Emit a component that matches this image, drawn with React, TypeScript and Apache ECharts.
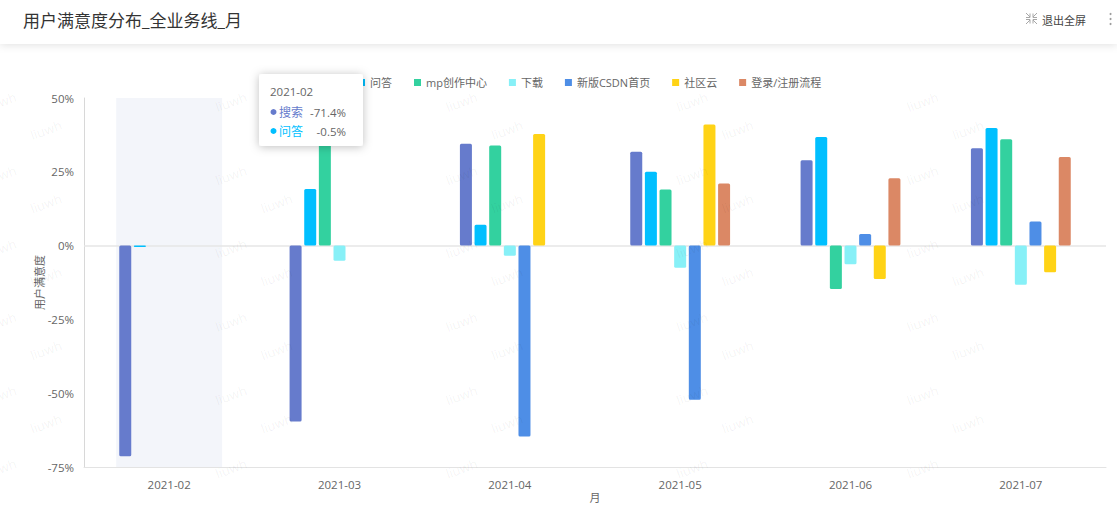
import React, { useEffect, useRef } from "react";
import * as echarts from "echarts";

const FONT = '"Open Sans","Noto Sans CJK SC",sans-serif';
const months = ["2021-02", "2021-03", "2021-04", "2021-05", "2021-06", "2021-07"];
const search = [-71.4, -59.6, 34.5, 31.8, 28.9, 33];
const answers = [-0.5, 19.2, 7.1, 25, 36.8, 39.8];
const mpCenter = [null, 37, 33.9, 19, -14.7, 36];
const downloads = [null, -5.1, -3.4, -7.5, -6.3, -13.3];
const csdnHome = [null, null, -64.7, -52.2, 3.9, 8.2];
const community = [null, null, 37.8, 41, -11.3, -9];
const loginFlow = [null, null, null, 21, 22.8, 30];
const seriesNames = ["搜索", "问答", "mp创作中心", "下载", "新版CSDN首页", "社区云", "登录/注册流程"];
const seriesValues = [search, answers, mpCenter, downloads, csdnHome, community, loginFlow];
const seriesColors = ["#667bcc", "#00bfff", "#33d19f", "#87f0f7", "#4e8ee6", "#ffd316", "#db8865"];
const highlightedMonth = ["2021-02"];
const Y_MIN = -75;
const Y_MAX = 50;

function watermarks() {
  const out: any[] = [];
  const style = { text: "liuwh", fill: "rgba(0,0,0,0.06)", font: "13px " + FONT, align: "center", verticalAlign: "middle" };
  for (let c = 0; c < 5; c++) {
    for (let r = 0; r < 6; r++) {
      out.push({ type: "text", silent: true, z: 50, x: 0.5 + c * 230.5, y: 102 + r * 73.3, rotation: 0.35, style: { ...style } });
      if (r < 5) out.push({ type: "text", silent: true, z: 50, x: 46 + c * 230.5, y: 130 + r * 73.4, rotation: 0.35, style: { ...style } });
    }
  }
  return out;
}

function exitIcon() {
  const stroke = { stroke: "#a8a8a8", lineWidth: 1, fill: "none" };
  const arrows = [
    [[1026, 13], [1030, 17]], [[1037, 13], [1033, 17]],
    [[1026, 24], [1030, 20]], [[1037, 24], [1033, 20]],
  ];
  const corners = [
    [[1030, 13.5], [1030, 17.5], [1026, 17.5]], [[1033, 13.5], [1033, 17.5], [1037, 17.5]],
    [[1030, 23.5], [1030, 19.5], [1026, 19.5]], [[1033, 23.5], [1033, 19.5], [1037, 19.5]],
  ];
  return [
    ...arrows.map((a) => ({ type: "line", silent: true, z: 60, shape: { x1: a[0][0], y1: a[0][1], x2: a[1][0], y2: a[1][1] }, style: stroke })),
    ...corners.map((p) => ({ type: "polyline", silent: true, z: 60, shape: { points: p }, style: stroke })),
  ];
}

export default function App() {
  const ref = useRef<HTMLDivElement>(null);
  useEffect(() => {
    document.body.style.margin = "0";
    const chart = echarts.init(ref.current!, undefined, { renderer: "svg" });
    const txt = (text: string, x: number, y: number, fill: string, size: number, z: number, align = "left") => ({
      type: "text", silent: true, x, y, z,
      style: { text, fill, font: `${size}px ${FONT}`, align, verticalAlign: "middle" },
    });
    chart.setOption({
      animation: false,
      backgroundColor: "#fff",
      textStyle: { fontFamily: FONT },
      grid: { left: 84, right: 11, top: 98, bottom: 38, outerBoundsMode: "none" },
      legend: {
        left: 297, top: 72, z: 4, icon: "rect", itemWidth: 7, itemHeight: 7, itemGap: 22,
        data: seriesNames,
        textStyle: { color: "#666", fontSize: 11, fontFamily: FONT },
      },
      xAxis: {
        type: "category", data: months, name: "月", nameLocation: "middle", nameGap: 25, nameMoveOverlap: false,
        nameTextStyle: { color: "#666", fontSize: 11 },
        axisLine: { onZero: false, lineStyle: { color: "#e3e3e3" } }, axisTick: { show: false },
        axisLabel: { color: "#666", fontSize: 11.5, margin: 12 },
      },
      yAxis: {
        type: "value", min: Y_MIN, max: Y_MAX, interval: 25, name: "用户满意度", nameLocation: "middle", nameGap: 39, nameMoveOverlap: false,
        nameTextStyle: { color: "#666", fontSize: 11 },
        axisLine: { show: true, lineStyle: { color: "#d8d8d8" } }, axisTick: { show: false }, splitLine: { show: false },
        axisLabel: { color: "#666", fontSize: 11.5, margin: 10, formatter: "{value}%" },
      },
      series: [
        {
          type: "custom", silent: true, z: 0, data: highlightedMonth.map((m) => [m]), encode: { x: 0 },
          renderItem: (_: any, api: any) => {
            const top = api.coord([api.value(0), Y_MAX]);
            const bottom = api.coord([api.value(0), Y_MIN]);
            const w = api.size([1, 0])[0] * 0.622;
            return { type: "rect", shape: { x: top[0] - w / 2, y: top[1], width: w, height: bottom[1] - top[1] }, style: { fill: "#f3f5fa" } };
          },
        },
        ...seriesNames.map((name, i) => ({
          type: "bar", name, data: seriesValues[i], barWidth: 12, barGap: "22%", z: 2,
          itemStyle: { color: seriesColors[i], borderRadius: 1.5 },
          ...(i === 0
            ? { markLine: { silent: true, z: 1, symbol: "none", label: { show: false }, lineStyle: { color: "#e6e6e6", width: 1.5, type: "solid" }, data: [{ yAxis: 0 }] } }
            : {}),
        })),
      ],
      graphic: {
        elements: [
          ...watermarks(),
          { type: "rect", silent: true, z: 59, shape: { x: 0, y: 0, width: 1117, height: 44 }, style: { fill: "#fff", shadowBlur: 8, shadowColor: "rgba(0,0,0,0.12)", shadowOffsetY: 1 } },
          txt("用户满意度分布_全业务线_月", 23, 20.5, "#333", 17, 60),
          ...exitIcon(),
          txt("退出全屏", 1042, 20, "#444", 11, 60),
          ...[14, 19, 24].map((y) => ({ type: "circle", silent: true, z: 60, shape: { cx: 1110.5, cy: y, r: 1 }, style: { fill: "#999" } })),
          { type: "rect", silent: true, z: 100, shape: { x: 259, y: 74, width: 104, height: 72, r: 3 }, style: { fill: "#fff", shadowBlur: 10, shadowColor: "rgba(0,0,0,0.25)", shadowOffsetY: 1 } },
          txt("2021-02", 270, 91, "#666", 11.5, 101),
          { type: "circle", silent: true, z: 101, shape: { cx: 273.5, cy: 112, r: 3 }, style: { fill: seriesColors[0] } },
          txt("搜索", 279, 112, seriesColors[0], 12, 101),
          txt("-71.4%", 346, 112, "#666", 11.5, 101, "right"),
          { type: "circle", silent: true, z: 101, shape: { cx: 273.5, cy: 131, r: 3 }, style: { fill: seriesColors[1] } },
          txt("问答", 279, 131, seriesColors[1], 12, 101),
          txt("-0.5%", 346, 131, "#666", 11.5, 101, "right"),
        ],
      },
    });
    return () => chart.dispose();
  }, []);
  return <div ref={ref} style={{ position: "absolute", left: 0, top: 0, width: 1117, height: 505 }} />;
}
